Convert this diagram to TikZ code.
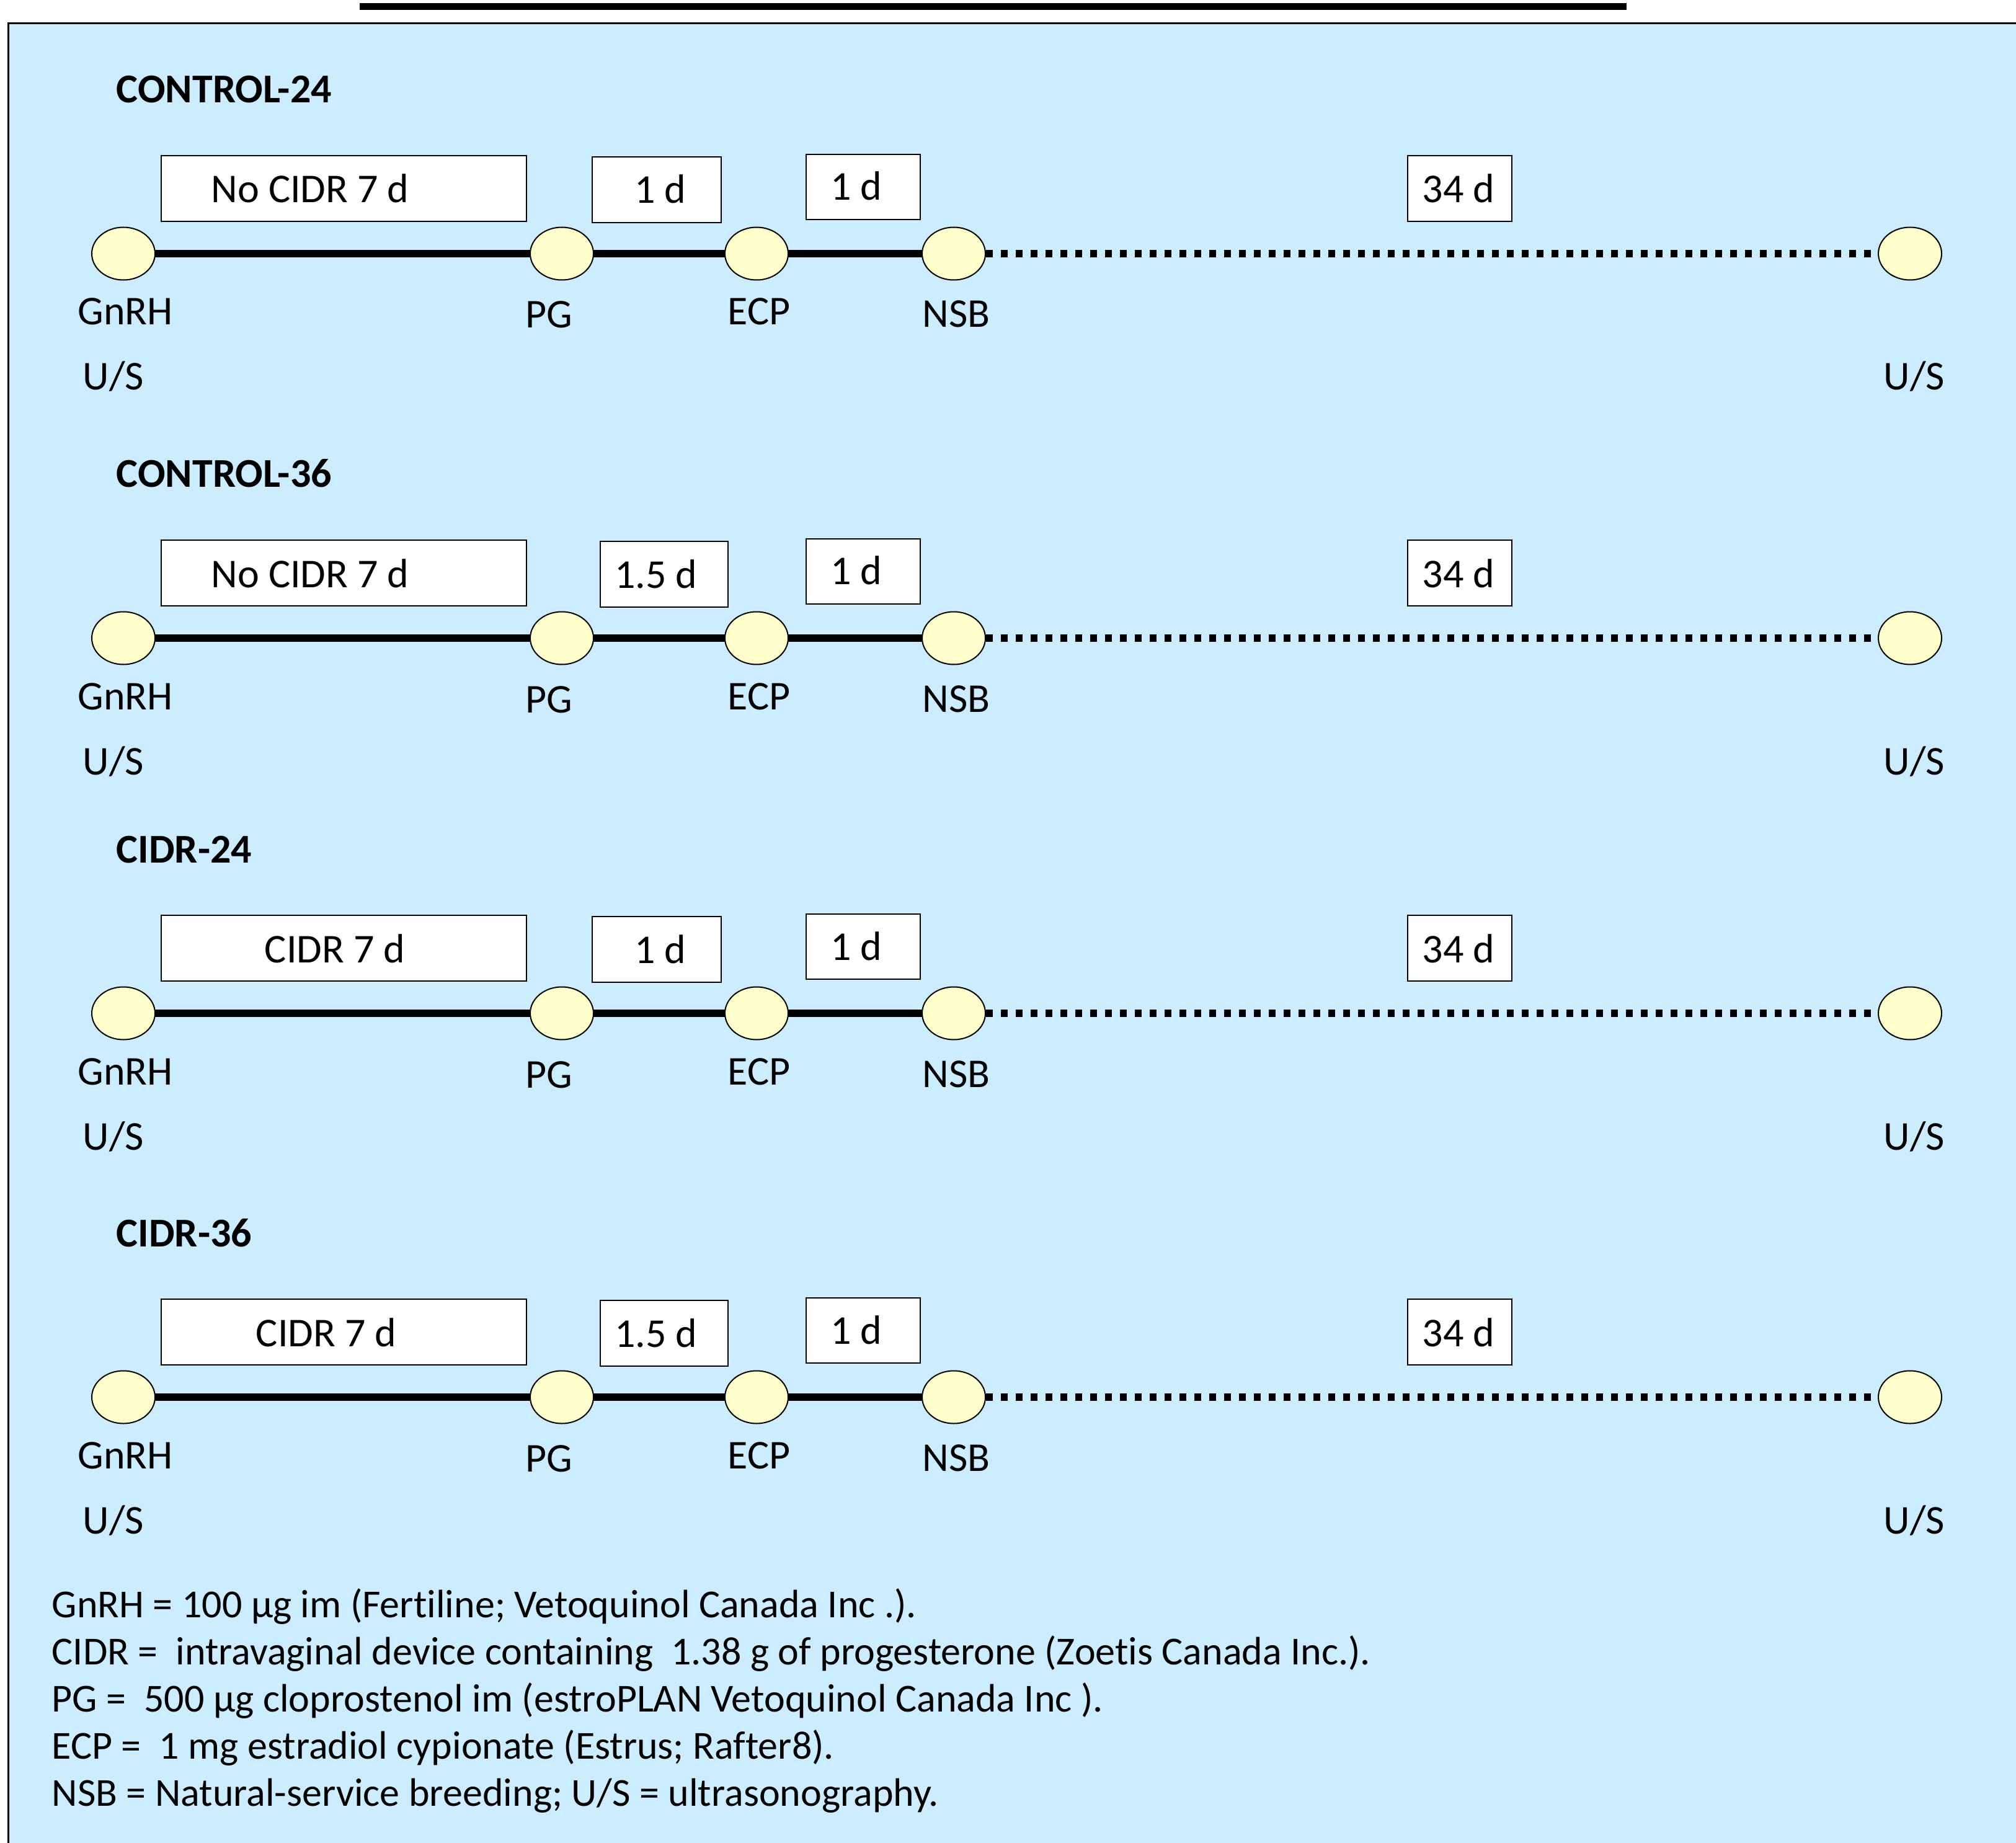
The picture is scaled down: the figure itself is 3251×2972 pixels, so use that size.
\documentclass[tikz,border=0pt]{standalone}
\usepackage{fontspec}
\setmainfont{Carlito}[Ligatures={TeX,NoCommon}]
\usetikzlibrary{shapes.geometric}
\definecolor{panelblue}{HTML}{CCECFF}
\definecolor{dotyellow}{HTML}{FFFFCC}
\pgfdeclarelayer{panel}
\pgfdeclarelayer{lines}
\pgfsetlayers{panel,lines,main}
\tikzset{
  event/.style={ellipse, draw=black, line width=0.5pt, fill=dotyellow,
    minimum width=25.5pt, minimum height=21.25pt, inner sep=0pt},
  period/.style={draw=black, line width=0.5pt, fill=white, inner sep=0pt},
  lbl/.style={anchor=base, inner sep=0pt, font=\fontsize{16.5}{20}\selectfont},
  ttl/.style={anchor=base west, inner sep=0pt, font=\fontsize{16.5}{20}\selectfont\bfseries},
  solidlink/.style={line width=3pt},
  dotlink/.style={line width=3pt, dash pattern=on 2.75pt off 3.25pt},
  legend/.style={anchor=base west, inner sep=0pt, font=\fontsize{16}{19}\selectfont},
}
% #1 name, #2 x left, #3 x right, #4 y top, #5 y bottom
\newcommand\periodbox[5]{%
  \node[period, minimum width={((#3)-(#2))*0.25pt}, minimum height={((#5)-(#4))*0.25pt}]
    (#1) at ({((#2)+(#3))/2},{((#4)+(#5))/2}) {};}
% #1 prefix, #2 Y, #3 title, #4 main text, #5 main text x,
% #6 box1 text, #7 box1 left, #8 box1 right, #9 box1 text x
\newcommand\regimen[9]{%
  \node[ttl] (#1title) at (187,#2-243) {#3};
  \periodbox{#1mainbox}{260}{849}{#2-158}{#2-52}
  \node[lbl] (#1maintext) at (#5,#2-82) {#4};
  \periodbox{#1boxa}{#7}{#8}{#2-156}{#2-50}
  \node[lbl] (#1boxatext) at (#9,#2-81) {#6};
  \periodbox{#1boxb}{1300}{1484}{#2-160}{#2-55}
  \node[lbl] (#1boxbtext) at (1381,#2-86) {1 d};
  \periodbox{#1boxc}{2270}{2438}{#2-158}{#2-52}
  \node[lbl] (#1boxctext) at (2352,#2-82) {34 d};
  \node[event] (#1g) at (199,#2) {};
  \node[event] (#1p) at (906,#2) {};
  \node[event] (#1e) at (1220,#2) {};
  \node[event] (#1n) at (1538,#2) {};
  \node[event] (#1u) at (3080,#2) {};
  \begin{pgfonlayer}{lines}
    \draw[solidlink] (#1g.center) -- (#1p.center) -- (#1e.center) -- (#1n.center);
    \draw[dotlink] (#1n.east) -- (#1u.west);
  \end{pgfonlayer}
  \node[lbl] (#1gl) at (202,#2+115) {GnRH};
  \node[lbl] (#1pl) at (885,#2+120) {PG};
  \node[lbl] (#1el) at (1224,#2+115) {ECP};
  \node[lbl] (#1nl) at (1542,#2+119) {NSB};
  \node[lbl] (#1ul) at (183,#2+220) {U/S};
  \node[lbl] (#1url) at (3087,#2+220) {U/S};
}
\begin{document}
\begin{tikzpicture}[x=0.25pt,y=-0.25pt]
  \useasboundingbox (0,0) rectangle (3251,2972);
  \begin{pgfonlayer}{panel}
    \fill[panelblue] (13,38) rectangle (3300,3020);
    \draw[line width=0.75pt] (3300,38) -- (13,38) -- (13,3020);
    \fill[black] (580,5) rectangle (2623,16);
  \end{pgfonlayer}
  \regimen{a}{409}{CONTROL-24}{No CIDR 7 d}{500}{1 d}{955}{1163}{1065}
  \regimen{b}{1029}{CONTROL-36}{No CIDR 7 d}{500}{1.5 d}{968}{1174}{1058}
  \regimen{c}{1634}{CIDR-24}{CIDR 7 d}{540}{1 d}{955}{1163}{1065}
  \regimen{d}{2253}{CIDR-36}{CIDR 7 d}{526}{1.5 d}{968}{1174}{1058}
  \node[legend] (leg1) at (83,2608) {GnRH = 100 µg im (Fertiline; Vetoquinol Canada Inc .).};
  \node[legend] (leg2) at (83,2684) {CIDR =~ intravaginal device containing~ 1.38 g of progesterone (Zoetis Canada Inc.).};
  \node[legend] (leg3) at (83,2760) {PG =~ 500 µg cloprostenol im (estroPLAN Vetoquinol Canada Inc ).};
  \node[legend] (leg4) at (83,2836) {ECP =~ 1 mg estradiol cypionate (Estrus; Rafter8).};
  \node[legend] (leg5) at (83,2912) {NSB = Natural-service breeding; U/S = ultrasonography.};
\end{tikzpicture}
\end{document}
